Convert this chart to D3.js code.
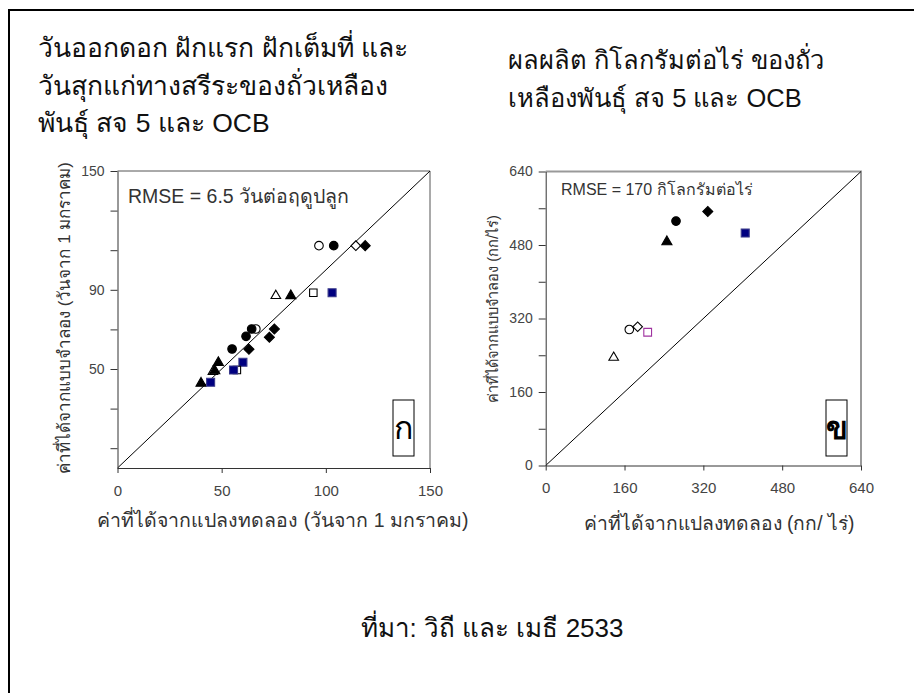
<!DOCTYPE html>
<html>
<head>
<meta charset="utf-8">
<script src="https://cdn.jsdelivr.net/npm/d3@7"></script>
<style>
  html, body { margin: 0; padding: 0; background: #fff; }
  svg { display: block; font-family: "Liberation Sans", Arial, "DejaVu Sans", sans-serif; }
</style>
</head>
<body>
<svg id="chart" width="914" height="693"></svg>
<script>
// Panel ก: days to flowering, first pod, full pod and maturity (observed vs simulated)
const aObserved  = [96.7, 103.8, 114.4, 118.9, 76.0, 83.2, 94.0, 103.0, 66.4, 64.4, 75.3, 61.7, 72.9, 55.0, 63.1, 48.4, 45.8, 46.7, 60.2, 57.3, 55.7, 40.1, 44.7];
const aSimulated = [112.3, 112.3, 112.3, 112.3, 87.0, 87.0, 88.5, 88.5, 70.2, 70.2, 70.2, 66.5, 66.0, 60.1, 60.0, 53.2, 48.6, 49.1, 53.4, 49.5, 49.5, 42.8, 43.3];
const aKind      = ["oc", "fc", "od", "fd", "ot", "ft", "os", "ns", "oc", "fc", "fd", "fc", "fd", "fc", "fd", "ft", "ot", "ft", "ns", "os", "ns", "ft", "ns"];

// Panel ข: grain yield, kg per rai (observed vs simulated)
const bObserved  = [138, 169.7, 186.7, 207, 246, 264.5, 329, 405];
const bSimulated = [235, 296, 302, 290, 487, 532, 553, 506];
const bKind      = ["ot", "oc", "od", "ps", "ft", "fc", "fd", "ns"];

// Axis ticks
const aXTicks = [0, 50, 100, 150];
const aYTicks = [10, 30, 50, 70, 90, 110, 130, 150];
const aYLabels = [50, 90, 150];
const bXTicks = [0, 160, 320, 480, 640];
const bYTicks = [0, 80, 160, 240, 320, 400, 480, 560, 640];
const bYLabels = [0, 160, 320, 480, 640];

// Text
const titleA = ["วันออกดอก ฝักแรก ฝักเต็มที่ และ", "วันสุกแก่ทางสรีระของถั่วเหลือง", "พันธุ์ สจ 5 และ OCB"];
const titleB = ["ผลผลิต กิโลกรัมต่อไร่ ของถั่ว", "เหลืองพันธุ์ สจ 5 และ OCB"];
const xTitleA = "ค่าที่ได้จากแปลงทดลอง (วันจาก 1 มกราคม)";
const yTitleA = "ค่าที่ได้จากแบบจำลอง (วันจาก 1 มกราคม)";
const xTitleB = "ค่าที่ได้จากแปลงทดลอง (กก/ ไร่)";
const yTitleB = "ค่าที่ได้จากแบบจำลอง (กก/ไร่)";
const rmseA = "RMSE = 6.5 วันต่อฤดูปลูก";
const rmseB = "RMSE = 170 กิโลกรัมต่อไร่";
const source = "ที่มา: วิถี และ เมธี 2533";

const svg = d3.select("#chart");

// outer frame
svg.append("path")
  .attr("d", "M9,700 L9,10 L920,10")
  .attr("fill", "none").attr("stroke", "#000").attr("stroke-width", 2);

// marker styles per kind code
const markerStyle = {
  oc: {shape: d3.symbolCircle,   size: 58, fill: "#fff",    stroke: "#000"},
  fc: {shape: d3.symbolCircle,   size: 58, fill: "#000",    stroke: "#000"},
  ot: {shape: d3.symbolTriangle, size: 40, fill: "#fff",    stroke: "#000"},
  ft: {shape: d3.symbolTriangle, size: 44, fill: "#000",    stroke: "#000"},
  os: {shape: d3.symbolSquare,   size: 56, fill: "#fff",    stroke: "#000"},
  ns: {shape: d3.symbolSquare,   size: 64, fill: "#000080", stroke: "#3a3a8a"},
  ps: {shape: d3.symbolSquare,   size: 60, fill: "#fff",    stroke: "#a033a0"},
  od: {shape: d3.symbolSquare,   size: 46, fill: "#fff",    stroke: "#000", rot: 45},
  fd: {shape: d3.symbolSquare,   size: 50, fill: "#000",    stroke: "#000", rot: 45}
};

function drawPanel(cfg) {
  const g = svg.append("g");
  const x = cfg.x, y = cfg.y;
  const [x0, x1] = x.range();
  const [y0, y1] = y.range();

  // frame top and right
  g.append("path")
    .attr("d", `M${x0},${y1} L${x1},${y1} L${x1},${y0}`)
    .attr("fill", "none").attr("stroke", cfg.frameColor).attr("stroke-width", cfg.frameWidth);

  // 1:1 line
  const d = x.domain();
  g.append("line")
    .attr("x1", x(d[0])).attr("y1", y(d[0]))
    .attr("x2", x(d[1])).attr("y2", y(d[1]))
    .attr("stroke", "#000").attr("stroke-width", 1);

  // x axis
  const gx = g.append("g").attr("transform", `translate(0,${y0})`)
    .call(d3.axisBottom(x).tickValues(cfg.xTicks).tickSize(5).tickSizeOuter(0).tickPadding(12));
  gx.select(".domain").attr("stroke", "#333");
  gx.selectAll(".tick line").attr("stroke", "#333");
  gx.selectAll(".tick text").attr("fill", "#444").attr("font-size", 15)
    .attr("font-family", "Liberation Sans, Arial, sans-serif");

  // y axis
  const gy = g.append("g").attr("transform", `translate(${x0},0)`)
    .call(d3.axisLeft(y).tickValues(cfg.yTicks).tickSize(7).tickSizeOuter(0).tickPadding(6)
      .tickFormat(v => cfg.yLabels.includes(v) ? String(v) : ""));
  gy.select(".domain").attr("stroke", "#333");
  gy.selectAll(".tick line").attr("stroke", "#333");
  gy.selectAll(".tick text").attr("fill", "#444").attr("font-size", 14)
    .attr("font-family", "Liberation Sans, Arial, sans-serif");

  // points
  g.append("g").selectAll("path")
    .data(cfg.obs.map((v, i) => ({ox: v, sy: cfg.sim[i], k: cfg.kind[i]})))
    .join("path")
    .attr("d", p => d3.symbol(markerStyle[p.k].shape, markerStyle[p.k].size)())
    .attr("transform", p => `translate(${x(p.ox)},${y(p.sy)})` + (markerStyle[p.k].rot ? ` rotate(${markerStyle[p.k].rot})` : ""))
    .attr("fill", p => markerStyle[p.k].fill)
    .attr("stroke", p => markerStyle[p.k].stroke)
    .attr("stroke-width", 1.1);

  // RMSE note
  g.append("text")
    .attr("x", cfg.rmsePos[0]).attr("y", cfg.rmsePos[1])
    .attr("font-size", cfg.rmseSize).attr("fill", "#333")
    .text(cfg.rmse);

  // panel letter box
  const [bx, by, bw, bh] = cfg.letterBox;
  g.append("rect").attr("x", bx).attr("y", by).attr("width", bw).attr("height", bh)
    .attr("fill", "#fff").attr("stroke", "#000").attr("stroke-width", 1);
  g.append("text")
    .attr("x", bx + bw / 2).attr("y", by + bh / 2 + 11)
    .attr("text-anchor", "middle").attr("font-size", 32).attr("font-weight", cfg.letterWeight)
    .attr("fill", "#000")
    .text(cfg.letter);

  // axis titles
  g.append("text")
    .attr("x", cfg.xTitlePos[0]).attr("y", cfg.xTitlePos[1])
    .attr("text-anchor", "middle").attr("font-size", cfg.xTitleSize).attr("fill", "#333")
    .text(cfg.xTitle);
  g.append("text")
    .attr("transform", `translate(${cfg.yTitlePos[0]},${cfg.yTitlePos[1]}) rotate(-90)`)
    .attr("text-anchor", "middle").attr("font-size", cfg.yTitleSize).attr("fill", "#333")
    .text(cfg.yTitle);
}

drawPanel({
  x: d3.scaleLinear().domain([0, 150]).range([117.5, 430]),
  y: d3.scaleLinear().domain([0, 150]).range([468, 171]),
  xTicks: aXTicks, yTicks: aYTicks, yLabels: aYLabels,
  obs: aObserved, sim: aSimulated, kind: aKind,
  frameColor: "#555", frameWidth: 1,
  rmse: rmseA, rmsePos: [128, 203], rmseSize: 19.5,
  letter: "ก", letterWeight: "normal", letterBox: [393, 400, 21, 56],
  xTitle: xTitleA, xTitlePos: [283, 527], xTitleSize: 19.5,
  yTitle: yTitleA, yTitlePos: [70, 318], yTitleSize: 17
});

drawPanel({
  x: d3.scaleLinear().domain([0, 640]).range([545.7, 861]),
  y: d3.scaleLinear().domain([0, 640]).range([465.5, 171.5]),
  xTicks: bXTicks, yTicks: bYTicks, yLabels: bYLabels,
  obs: bObserved, sim: bSimulated, kind: bKind,
  frameColor: "#999", frameWidth: 2,
  rmse: rmseB, rmsePos: [561, 195], rmseSize: 16,
  letter: "ข", letterWeight: "bold", letterBox: [826, 400, 21, 56],
  xTitle: xTitleB, xTitlePos: [719, 530], xTitleSize: 19.3,
  yTitle: yTitleB, yTitlePos: [498, 309], yTitleSize: 14.5
});

// titles
svg.append("g").selectAll("text").data(titleA).join("text")
  .attr("x", 38).attr("y", (d, i) => 57 + i * 37.5)
  .attr("font-size", 26.5).attr("fill", "#111").text(d => d);
svg.append("g").selectAll("text").data(titleB).join("text")
  .attr("x", 508).attr("y", (d, i) => 69 + i * 37.5)
  .attr("font-size", 25.5).attr("fill", "#111").text(d => d);

// source note
svg.append("text")
  .attr("x", 492).attr("y", 637).attr("text-anchor", "middle")
  .attr("font-size", 26).attr("fill", "#111").text(source);
</script>
</body>
</html>
